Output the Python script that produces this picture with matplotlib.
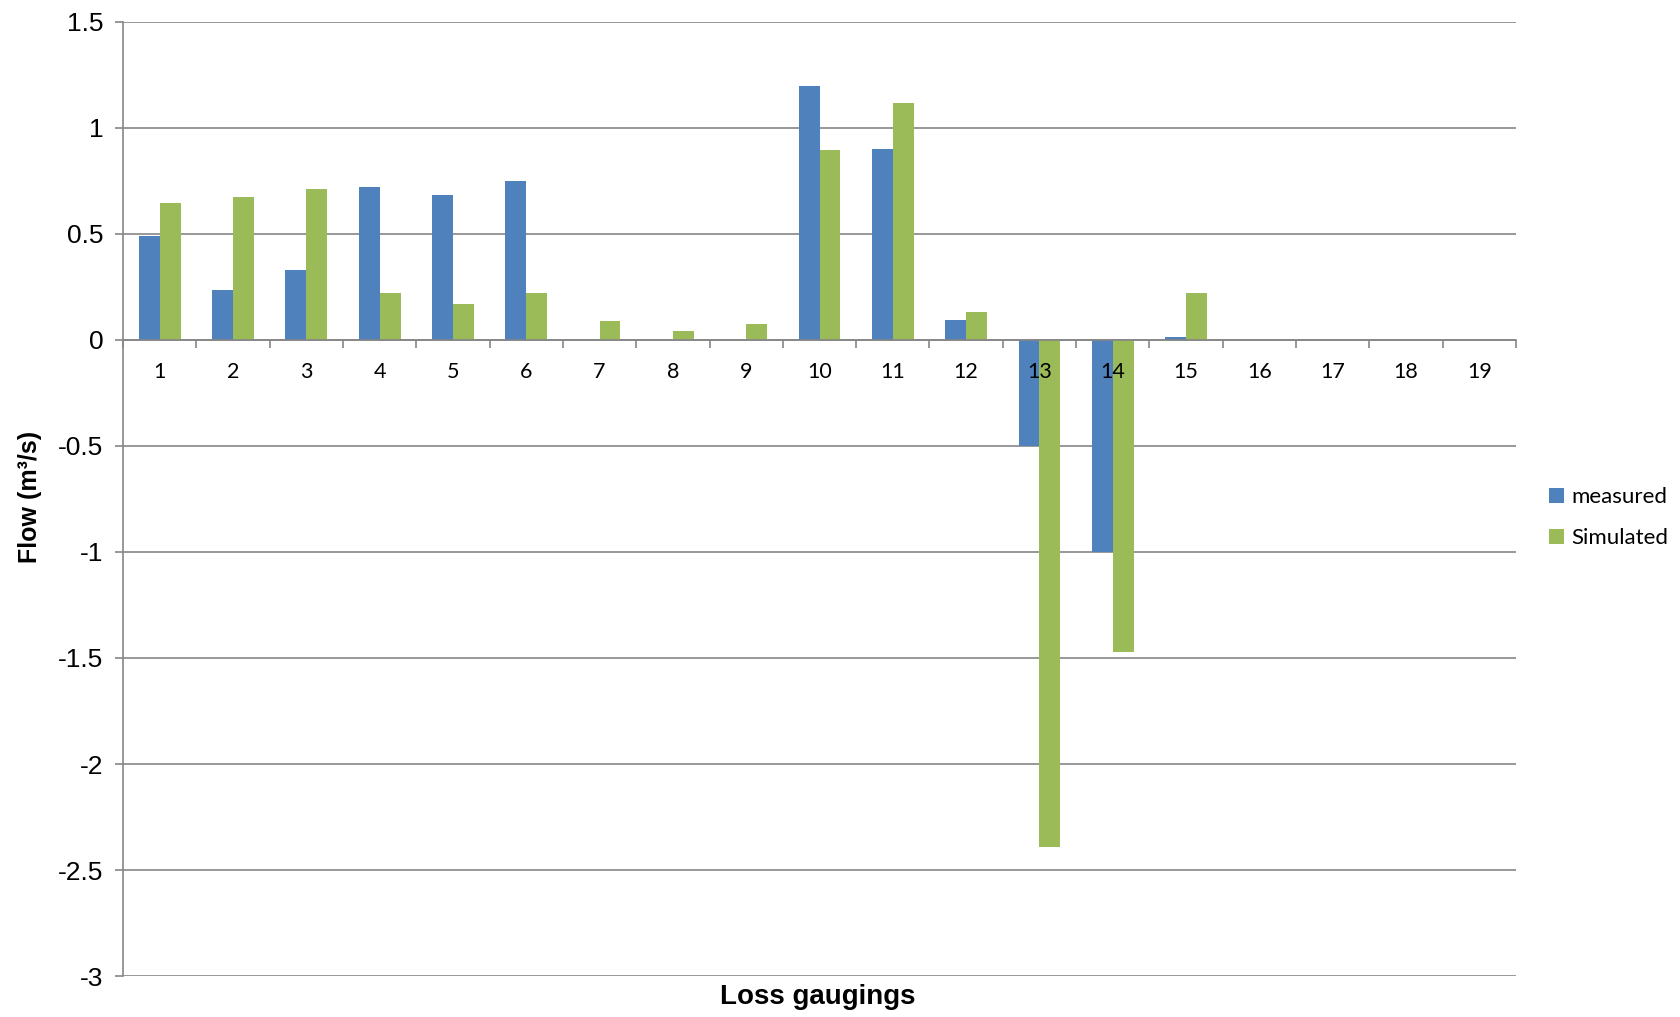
import matplotlib
matplotlib.use('Agg')
import matplotlib.pyplot as plt
import numpy as np

# Loss gauging results: measured vs simulated flow (m3/s)
gaugings = [str(i) for i in range(1, 20)]
measured = [0.49, 0.235, 0.33, 0.72, 0.685, 0.75, 0, 0, 0, 1.2, 0.9, 0.095, -0.5, -1.0, 0.014, 0, 0, 0, 0]
simulated = [0.645, 0.673, 0.712, 0.222, 0.169, 0.222, 0.088, 0.043, 0.076, 0.898, 1.117, 0.134, -2.39, -1.47, 0.222, 0, 0, 0, 0]

BLUE = '#4F81BD'
GREEN = '#9BBB59'
GREY = '#868686'
BAR_W = 0.2857

fig = plt.figure(figsize=(16.8, 10.17), dpi=100)
ax = fig.add_axes([0.0732, 0.0403, 0.8292, 0.9381])

x = np.arange(1, len(gaugings) + 1)
ax.bar(x - BAR_W / 2, measured, BAR_W, color=BLUE, label='measured', zorder=1)
ax.bar(x + BAR_W / 2, simulated, BAR_W, color=GREEN, label='Simulated', zorder=1)

yticks = np.arange(-3, 1.51, 0.5)
for y in yticks:
    ax.axhline(y, color=GREY, lw=1.2, zorder=0.5)

ax.set_xlim(0.5, len(gaugings) + 0.5)
ax.set_ylim(-3, 1.5)
ax.set_axisbelow(False)

ax.set_yticks(yticks)
ax.set_yticklabels(['%g' % v for v in yticks], fontfamily='Liberation Sans', fontsize=19)
ax.tick_params(axis='y', direction='out', length=6, color=GREY, width=1.2, pad=8)

# category labels sit under the zero line, with small ticks between groups
ax.spines['bottom'].set_position(('data', 0))
ax.spines['bottom'].set_color(GREY)
ax.spines['bottom'].set_linewidth(1.2)
ax.set_xticks(x)
ax.set_xticklabels(gaugings, fontfamily='Lato', fontsize=15.5)
ax.set_xticks(np.arange(0.5, len(gaugings) + 1, 1), minor=True)
ax.tick_params(axis='x', which='major', length=0, pad=16)
ax.tick_params(axis='x', which='minor', direction='out', length=6, color=GREY, width=1.2)

ax.spines['left'].set_color(GREY)
ax.spines['left'].set_linewidth(1.2)
ax.spines['top'].set_visible(False)
ax.spines['right'].set_visible(False)

fig.text(0.487, 0.02, 'Loss gaugings', ha='center', va='center',
         fontfamily='Liberation Sans', fontweight='bold', fontsize=20)
fig.text(0.018, 0.511, 'Flow (m\u00b3/s)', ha='center', va='center', rotation=90,
         fontfamily='Liberation Sans', fontweight='bold', fontsize=18)

fig.legend(loc='center left', bbox_to_anchor=(0.91, 0.491), frameon=False,
           prop={'family': 'Lato', 'size': 16}, handlelength=0.7, handleheight=0.7,
           handletextpad=0.3, labelspacing=0.95)

fig.savefig('out.png', dpi=100)
